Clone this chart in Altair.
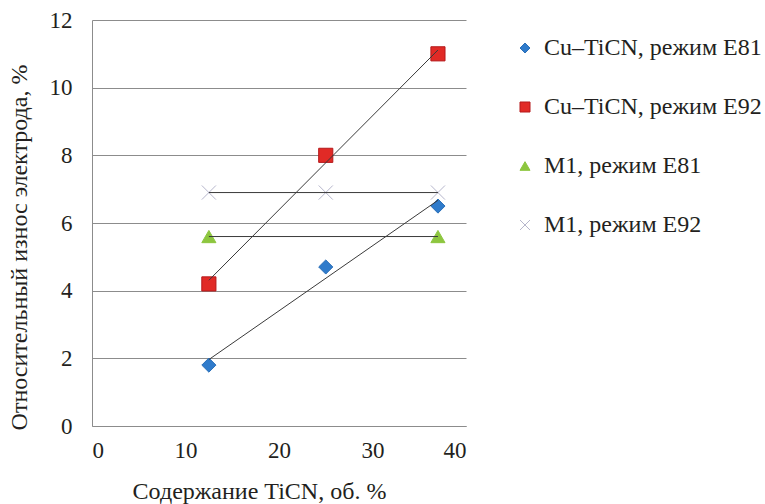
import altair as alt
import pandas as pd

# ---- data ----
x_tican = [12.5, 25, 37]
cu_e81 = [1.8, 4.7, 6.5]
cu_e92 = [4.2, 8.0, 11.0]
m1_e81_x = [12.5, 37]
m1_e81 = [5.6, 5.6]
m1_e92 = [6.9, 6.9, 6.9]

series_names = [
    "Cu\u2013TiCN, режим E81",
    "Cu\u2013TiCN, режим E92",
    "M1, режим E81",
    "M1, режим E92",
]
x_ticks = [0, 10, 20, 30, 40]
y_ticks = [0, 2, 4, 6, 8, 10, 12]

rows = []
for xv, yv in zip(x_tican, cu_e81):
    rows.append({"x": xv, "y": yv, "series": series_names[0]})
for xv, yv in zip(x_tican, cu_e92):
    rows.append({"x": xv, "y": yv, "series": series_names[1]})
for xv, yv in zip(m1_e81_x, m1_e81):
    rows.append({"x": xv, "y": yv, "series": series_names[2]})
for xv, yv in zip(x_tican, m1_e92):
    rows.append({"x": xv, "y": yv, "series": series_names[3]})
df = pd.DataFrame(rows)

FONT = "Liberation Serif"
TXT = "#231f20"
GRID = "#8c8c8c"

fill_range = ["#2f7bcb", "#e12a26", "#8dc63f", "#c4c4d6"]
stroke_range = ["#2a6fb8", "#b5181a", "#8dc63f", "#b6b6cc"]
shape_range = ["diamond", "square", "triangle-up", "M-1,-1L1,1M-1,1L1,-1"]

legend = alt.Legend(
    title=None,
    orient="none",
    legendX=421,
    legendY=16,
    labelFont=FONT,
    labelFontSize=24,
    labelColor=TXT,
    labelOffset=7,
    symbolSize=100,
    symbolStrokeWidth=1,
    rowPadding=35,
    padding=0,
    labelLimit=300,
)

x_enc = alt.X(
    "x:Q",
    scale=alt.Scale(domain=[0, 40], nice=False, zero=False),
    axis=alt.Axis(
        values=x_ticks,
        grid=False,
        ticks=False,
        tickSize=0,
        domain=True,
        domainColor=GRID,
        labelFont=FONT,
        labelFontSize=23,
        labelColor=TXT,
        labelPadding=13,
        title="Содержание TiCN, об. %",
        titleFont=FONT,
        titleFontSize=24,
        titleFontWeight="normal",
        titleColor=TXT,
        titleX=167,
        titleY=72,
        titleAlign="center",
        titleBaseline="alphabetic",
    ),
)
y_enc = alt.Y(
    "y:Q",
    scale=alt.Scale(domain=[0, 12], nice=False),
    axis=alt.Axis(
        values=y_ticks,
        grid=True,
        gridColor=GRID,
        gridWidth=1,
        ticks=False,
        tickSize=0,
        domain=True,
        domainColor=GRID,
        labelFont=FONT,
        labelFontSize=23,
        labelColor=TXT,
        labelPadding=20,
        title="Относительный износ электрода, %",
        titleFont=FONT,
        titleFontSize=24,
        titleFontWeight="normal",
        titleColor=TXT,
        titleAngle=-90,
        titleX=-66,
        titleY=227,
        titleAlign="center",
        titleBaseline="alphabetic",
    ),
)

points = alt.Chart(df).mark_point(filled=True, strokeWidth=1, opacity=1, size=200).encode(
    x=x_enc,
    y=y_enc,
    fill=alt.Fill("series:N", scale=alt.Scale(domain=series_names, range=fill_range), legend=legend),
    stroke=alt.Stroke("series:N", scale=alt.Scale(domain=series_names, range=stroke_range), legend=legend),
    shape=alt.Shape("series:N", scale=alt.Scale(domain=series_names, range=shape_range), legend=legend),
)

trend = (
    alt.Chart(df)
    .transform_regression("x", "y", groupby=["series"])
    .mark_line(color="#3a3a3a", strokeWidth=1)
    .encode(x="x:Q", y="y:Q", detail="series:N")
)

chart = (
    alt.layer(points, trend)
    .properties(
        width=374,
        height=406,
        padding={"left": 92, "top": 20, "right": 299, "bottom": 78},
        autosize=alt.AutoSizeParams(type="none"),
        background="white",
    )
    .configure_view(stroke=None)
)

chart.save("out.html", embed_options={"renderer": "svg", "actions": False})
